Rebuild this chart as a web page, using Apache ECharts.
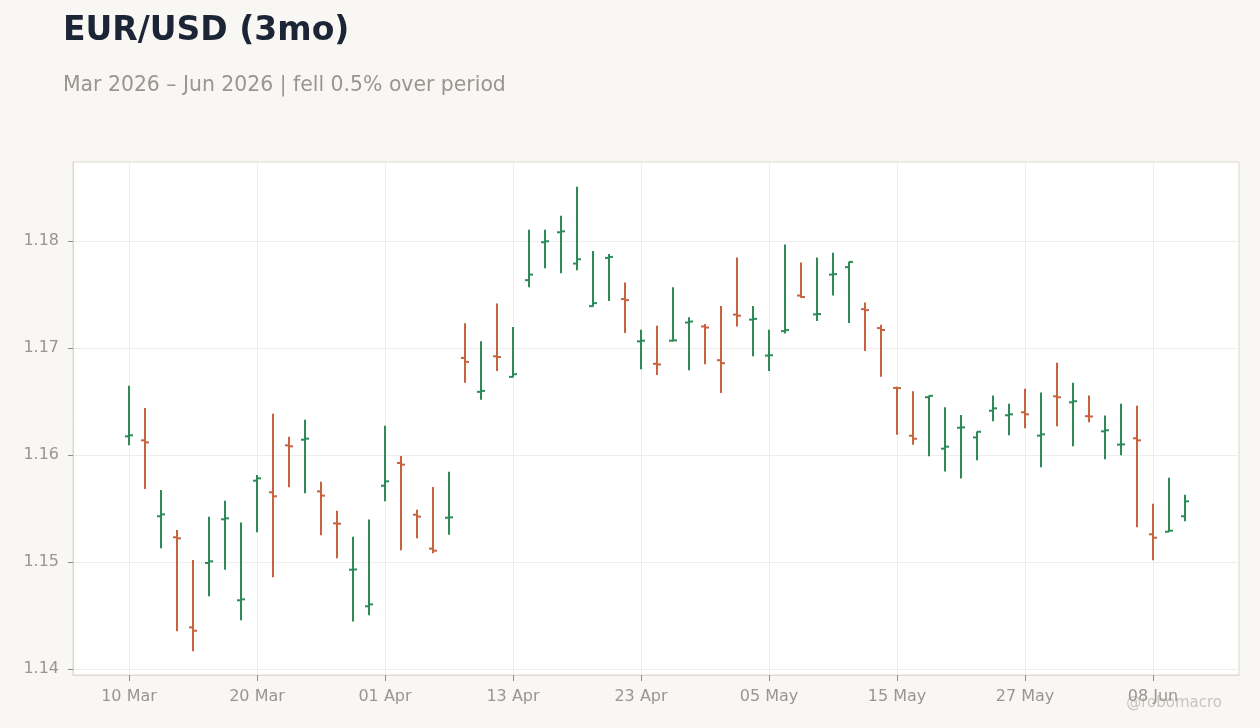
<!DOCTYPE html>
<html>
<head>
<meta charset="utf-8">
<title>EUR/USD (3mo)</title>
<script src="https://cdn.jsdelivr.net/npm/echarts@6/dist/echarts.min.js"></script>
<style>
  html, body { margin: 0; padding: 0; background: #f8f7f4; }
  #main { width: 1260px; height: 728px; }
</style>
</head>
<body>
<div id="main"></div>
<script>
// trading days (weekdays), one bar per day
var dates = ['10 Mar','11 Mar','12 Mar','13 Mar','16 Mar','17 Mar','18 Mar','19 Mar','20 Mar',
  '23 Mar','24 Mar','25 Mar','26 Mar','27 Mar','30 Mar','31 Mar','01 Apr','02 Apr','03 Apr',
  '06 Apr','07 Apr','08 Apr','09 Apr','10 Apr','13 Apr','14 Apr','15 Apr','16 Apr','17 Apr',
  '20 Apr','21 Apr','22 Apr','23 Apr','24 Apr','27 Apr','28 Apr','29 Apr','30 Apr','01 May',
  '04 May','05 May','06 May','07 May','08 May','11 May','12 May','13 May','14 May','15 May',
  '18 May','19 May','20 May','21 May','22 May','25 May','26 May','27 May','28 May','29 May',
  '01 Jun','02 Jun','03 Jun','04 Jun','05 Jun','08 Jun','09 Jun','10 Jun'];

var opens = [1.16174,1.16137,1.15427,1.15231,1.14389,1.14991,1.15399,1.14642,1.15760,
  1.15651,1.16090,1.16143,1.15660,1.15361,1.14928,1.14586,1.15713,1.15925,1.15442,
  1.15125,1.15414,1.16907,1.16590,1.16922,1.16730,1.17634,1.17988,1.18081,1.17789,
  1.17391,1.17842,1.17457,1.17062,1.16852,1.17068,1.17238,1.17201,1.16886,1.17312,
  1.17265,1.16929,1.17157,1.17490,1.17314,1.17686,1.17755,1.17363,1.17186,1.16627,
  1.16180,1.16540,1.16059,1.16255,1.16164,1.16414,1.16371,1.16399,1.16181,1.16548,
  1.16492,1.16363,1.16221,1.16097,1.16156,1.15259,1.15283,1.15427];

var highs = [1.16648,1.16439,1.15673,1.15299,1.15019,1.15424,1.15573,1.15368,1.15813,
  1.16386,1.16171,1.16330,1.15751,1.15480,1.15237,1.15396,1.16274,1.15991,1.15489,
  1.15701,1.15844,1.17230,1.17062,1.17416,1.17196,1.18106,1.18106,1.18236,1.18506,
  1.17907,1.17879,1.17612,1.17170,1.17207,1.17568,1.17287,1.17225,1.17392,1.17846,
  1.17392,1.17170,1.17966,1.17798,1.17845,1.17891,1.17806,1.17425,1.17217,1.16637,
  1.16596,1.16555,1.16447,1.16373,1.16220,1.16555,1.16480,1.16620,1.16583,1.16863,
  1.16676,1.16555,1.16368,1.16480,1.16461,1.15545,1.15788,1.15629];

var lows = [1.16090,1.15682,1.15128,1.14352,1.14165,1.14679,1.14928,1.14455,1.15277,
  1.14857,1.15698,1.15642,1.15249,1.15034,1.14445,1.14502,1.15567,1.15109,1.15221,
  1.15081,1.15255,1.16674,1.16516,1.16786,1.16724,1.17568,1.17745,1.17699,1.17727,
  1.17385,1.17438,1.17140,1.16802,1.16747,1.17062,1.16793,1.16849,1.16580,1.17201,
  1.16923,1.16784,1.17136,1.17470,1.17252,1.17491,1.17233,1.16972,1.16730,1.16189,
  1.16096,1.15988,1.15845,1.15780,1.15950,1.16315,1.16184,1.16249,1.15885,1.16268,
  1.16081,1.16305,1.15960,1.15997,1.15324,1.15016,1.15283,1.15380];

var closes = [1.16184,1.16118,1.15445,1.15221,1.14358,1.15006,1.15408,1.14651,1.15782,
  1.15614,1.16081,1.16153,1.15620,1.15358,1.14930,1.14604,1.15754,1.15910,1.15424,
  1.15106,1.15417,1.16870,1.16599,1.16916,1.16755,1.17686,1.17997,1.18090,1.17829,
  1.17419,1.17851,1.17447,1.17068,1.16846,1.17071,1.17247,1.17191,1.16858,1.17302,
  1.17272,1.16932,1.17167,1.17476,1.17317,1.17690,1.17804,1.17354,1.17168,1.16625,
  1.16152,1.16553,1.16078,1.16258,1.16217,1.16436,1.16380,1.16380,1.16193,1.16539,
  1.16502,1.16360,1.16231,1.16099,1.16137,1.15227,1.15293,1.15567];

var yTicks = [1.14, 1.15, 1.16, 1.17, 1.18];
var xTickIdx = [0, 8, 16, 24, 32, 40, 48, 56, 64];

var UP = '#2e8b57', DOWN = '#c8623e';
var GRAY = '#9a9590';

var bars = [];
for (var i = 0; i < dates.length; i++) {
  bars.push([i, opens[i], closes[i], lows[i], highs[i]]);
}

function renderOhlc(params, api) {
  var x = api.value(0);
  var o = api.value(1), c = api.value(2), l = api.value(3), h = api.value(4);
  var po = api.coord([x, o]);
  var pc = api.coord([x, c]);
  var pl = api.coord([x, l]);
  var ph = api.coord([x, h]);
  var col = c >= o ? UP : DOWN;
  var st = { stroke: col, lineWidth: 2 };
  var cx = Math.round(po[0]);
  return {
    type: 'group',
    children: [
      { type: 'line', shape: { x1: cx, y1: ph[1], x2: cx, y2: pl[1] }, style: st },
      { type: 'line', shape: { x1: cx - 4, y1: po[1], x2: cx, y2: po[1] }, style: st },
      { type: 'line', shape: { x1: cx, y1: pc[1], x2: cx + 4, y2: pc[1] }, style: st }
    ]
  };
}

var chart = echarts.init(document.getElementById('main'));
var font = 'DejaVu Sans';

chart.setOption({
  backgroundColor: '#f8f7f4',
  animation: false,
  textStyle: { fontFamily: font },
  graphic: [
    { type: 'text', left: 63, top: 15,
      style: { text: 'EUR/USD (3mo)', fontSize: 33, fontWeight: 'bold', fill: '#1b2535', fontFamily: font } },
    { type: 'text', left: 63, top: 76,
      style: { text: 'Mar 2026 \u2013 Jun 2026 | fell 0.5% over period', fontSize: 20.4, fill: GRAY, fontFamily: font } },
    { type: 'text', right: 38, top: 696,
      style: { text: '@robomacro', fontSize: 15, fill: '#c8c4bf', fontFamily: font } }
  ],
  grid: {
    left: 73, right: 21, top: 162, bottom: 53,
    show: true, backgroundColor: '#ffffff', borderColor: '#ddd8d2', borderWidth: 1
  },
  xAxis: {
    type: 'value',
    min: -3.5,
    max: 69.375,
    axisLine: { show: true, onZero: false, lineStyle: { color: '#ddd8d2' } },
    axisTick: { show: true, length: 6, customValues: xTickIdx, lineStyle: { color: '#8f8a85' } },
    axisLabel: {
      customValues: xTickIdx, margin: 14, fontSize: 16, color: GRAY, fontFamily: font,
      formatter: function (v) { return dates[Math.round(v)] || ''; }
    },
    splitLine: { show: true, lineStyle: { color: '#f0eeec', width: 1 } }
  },
  yAxis: {
    type: 'value',
    min: 1.13944,
    max: 1.18738,
    axisLine: { show: true, onZero: false, lineStyle: { color: '#ddd8d2' } },
    axisTick: { show: true, length: 5, customValues: yTicks, lineStyle: { color: '#8f8a85' } },
    axisLabel: {
      customValues: yTicks, margin: 14, fontSize: 16, color: GRAY, fontFamily: font,
      formatter: function (v) { return v.toFixed(2); }
    },
    splitLine: { show: true, lineStyle: { color: '#f0eeec', width: 1 } }
  },
  series: [{
    type: 'custom',
    renderItem: renderOhlc,
    encode: { x: 0, y: [1, 2, 3, 4] },
    data: bars,
    clip: true
  }]
});
</script>
</body>
</html>
